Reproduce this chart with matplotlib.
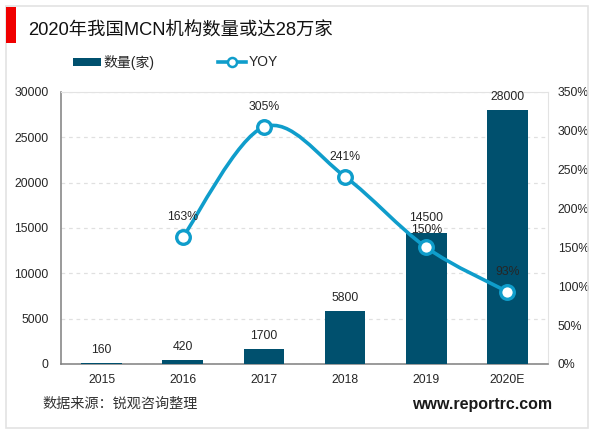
#!/usr/bin/python

# MCN count bars with a smoothed YOY line on a second axis

import matplotlib
matplotlib.use("Agg")
import matplotlib.pyplot as plt
from matplotlib.lines import Line2D
from matplotlib.patches import Patch, PathPatch, Rectangle
from matplotlib.path import Path

years = ["2015", "2016", "2017", "2018", "2019", "2020E"]
counts = [160, 420, 1700, 5800, 14500, 28000]
yoy_years = [1, 2, 3, 4, 5]
yoy = [163, 305, 241, 150, 93]
left_ticks = [0, 5000, 10000, 15000, 20000, 25000, 30000]
right_ticks = [0, 50, 100, 150, 200, 250, 300, 350]

BAR = "#00506e"
LINE = "#0f9dcb"
FRAME = "#e3e3e3"
TEXT = "#262626"
W, H = 600, 433

plt.rcParams["font.family"] = ["Liberation Sans", "Noto Sans CJK SC"]

fig = plt.figure(figsize=(6, 4.33), dpi=100, facecolor="white")
ax = fig.add_axes([61 / W, 1 - 364 / H, 487 / W, 272 / H])
ax2 = ax.twinx()

# outer frame and the red block next to the title
fig.add_artist(Rectangle((6 / W, 1 - 428 / H), 582 / W, 422 / H, transform=fig.transFigure,
                         fill=False, edgecolor=FRAME, linewidth=1.2))
fig.add_artist(Rectangle((6 / W, 1 - 43 / H), 10 / W, 36 / H, transform=fig.transFigure,
                         facecolor="#f00000", edgecolor="none"))
fig.text(28 / W, 1 - 31 / H, "2020年我国MCN机构数量或达28万家", fontsize=13.2,
         color="#111111", va="center", ha="left")

# bars
xs = list(range(len(years)))
ax.bar(xs, counts, width=0.5, color=BAR, zorder=3)
for x, v in zip(xs, counts):
    # 14500 and 150% sit almost on top of each other, nudge them apart
    off = 6 if v == 14500 else 5
    ax.annotate(str(v), (x, v), xytext=(0, off), textcoords="offset points",
                ha="center", va="bottom", fontsize=8.8, color=TEXT, zorder=5)
ax.set_xlim(-0.5, 5.5)
ax.set_ylim(0, 30000)
ax.set_xticks(xs, years)
ax.set_yticks(left_ticks)
ax.tick_params(axis="x", length=0, pad=7, labelsize=8.8, labelcolor=TEXT)
ax.tick_params(axis="y", length=0, pad=9, labelsize=8.8, labelcolor=TEXT)
ax.grid(True, axis="y", linestyle=(0, (3, 3)), color="#e0e0e0", linewidth=0.9, zorder=0)
ax.set_axisbelow(True)

# smooth line, control points from the neighbours like office charts do
verts = [(yoy_years[0], yoy[0])]
codes = [Path.MOVETO]
n = len(yoy)
for i in range(n - 1):
    x0, y0 = yoy_years[max(i - 1, 0)], yoy[max(i - 1, 0)]
    x1, y1 = yoy_years[i], yoy[i]
    x2, y2 = yoy_years[i + 1], yoy[i + 1]
    x3, y3 = yoy_years[min(i + 2, n - 1)], yoy[min(i + 2, n - 1)]
    verts.append((x1 + (x2 - x0) / 6, y1 + (y2 - y0) / 6))
    verts.append((x2 - (x3 - x1) / 6, y2 - (y3 - y1) / 6))
    verts.append((x2, y2))
    codes += [Path.CURVE4, Path.CURVE4, Path.CURVE4]
ax2.add_patch(PathPatch(Path(verts, codes), fill=False, edgecolor=LINE, linewidth=2.6,
                        capstyle="round", zorder=3))
ax2.plot(yoy_years, yoy, linestyle="none", marker="o", markersize=9.8,
         markerfacecolor="white", markeredgecolor=LINE, markeredgewidth=2.4, zorder=4)
for x, v in zip(yoy_years, yoy):
    off = 12.5 if v == 150 else 14.5
    ax2.annotate(f"{v}%", (x, v), xytext=(0, off), textcoords="offset points",
                 ha="center", va="center", fontsize=8.8, color=TEXT, zorder=5)
ax2.set_ylim(0, 350)
ax2.set_yticks(right_ticks, [f"{t}%" for t in right_ticks])
ax2.tick_params(axis="y", length=0, pad=7, labelsize=8.8, labelcolor=TEXT)

ax.spines["top"].set_color(FRAME)
ax.spines["right"].set_color(FRAME)
ax.spines["left"].set_color("#7f7f7f")
ax.spines["bottom"].set_color("#7f7f7f")
ax.spines["left"].set_linewidth(1.1)
ax.spines["bottom"].set_linewidth(1.1)
# second axis sits on top, keep its spines from covering the small bars
for side in ax2.spines:
    ax2.spines[side].set_visible(False)

# legend
handles = [Patch(facecolor=BAR, edgecolor="none"),
           Line2D([], [], color=LINE, linewidth=2.6, marker="o", markersize=6.5,
                  markerfacecolor="white", markeredgecolor=LINE, markeredgewidth=1.8)]
fig.legend(handles, ["数量(家)", "YOY"], ncol=2, frameon=False, fontsize=10,
           loc="center left", bbox_to_anchor=(60.5 / W, 1 - 62 / H), handlelength=2.0,
           handleheight=0.5, handletextpad=0.2, columnspacing=4.6, labelcolor="#262626")

# footer
fig.text(42 / W, 1 - 404 / H, "数据来源：锐观咨询整理", fontsize=10.2, color="#333333",
         va="center", ha="left")
fig.text(552 / W, 1 - 404 / H, "www.reportrc.com", fontsize=11.5, fontweight="bold",
         color="#1a1a1a", va="center", ha="right")

fig.savefig("out.png", dpi=100)
